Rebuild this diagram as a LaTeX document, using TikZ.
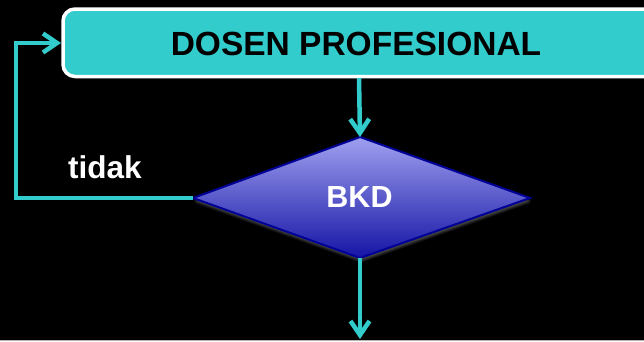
\documentclass[tikz,border=0pt]{standalone}
\usepackage{fontspec}
\setmainfont{Liberation Sans}
\usetikzlibrary{arrows.meta}
\definecolor{tealc}{RGB}{51,204,204}
\definecolor{dtop}{RGB}{160,160,240}
\definecolor{dbot}{RGB}{20,20,165}
\definecolor{dedge}{RGB}{0,0,150}
\tikzset{
  conn/.style={draw=tealc, line width=4.5pt, -{Straight Barb[length=14pt,width=19pt,line width=4.5pt]}},
  line/.style={draw=tealc, line width=4.5pt},
}
\begin{document}
\begin{tikzpicture}[x=1pt,y=-1pt]
\useasboundingbox (0,0) rectangle (644,341);
\fill[black] (0,0) rectangle (644,341);
\clip (0,0) rectangle (644,341);
\draw[gray!60, line width=1pt] (0,340.5) -- (644,340.5);
% top box
\draw[fill=tealc, draw=white, line width=3.5pt, rounded corners=12pt] (63,9) rectangle (680,76.5);
\node[font=\bfseries\fontsize{33.5}{36}\selectfont, text=black, inner sep=0pt] (dosen) at (356,44.2) {DOSEN PROFESIONAL};
\coordinate (boxl) at (61,43);
\coordinate (boxb) at (359,78);
% diamond
\coordinate (dt) at (360,137);
\coordinate (dr) at (530,198);
\coordinate (db) at (360,258);
\coordinate (dl) at (193,198);
\foreach \o/\a in {5/0.10,4/0.14,3/0.18,2/0.22}{
  \fill[gray, opacity=\a] ([shift={(1,\o)}]dt) -- ([shift={(1,\o)}]dr) -- ([shift={(1,\o)}]db) -- ([shift={(1,\o)}]dl) -- cycle;
}
\shade[top color=dtop, bottom color=dbot] (dt) -- (dr) -- (db) -- (dl) -- cycle;
\draw[dedge, line width=2pt, line join=miter] (dt) -- (dr) -- (db) -- (dl) -- cycle;
\node[font=\bfseries\fontsize{30.5}{32}\selectfont, text=white, inner sep=0pt] (bkd) at (359.5,197.5) {BKD};
% connectors
\draw[conn] (boxb) -- (dt);
\coordinate (loopb) at (16,198);
\coordinate (loopt) at (16,43);
\draw[conn, line join=miter] (dl) -- (loopb) -- (loopt) -- (boxl);
\coordinate (outb) at (360,339);
\draw[conn] (db) -- (outb);
\node[font=\bfseries\fontsize{31.5}{33}\selectfont, text=white, inner sep=0pt, anchor=base west] (tidak) at (68,178) {tidak};
\end{tikzpicture}
\end{document}
